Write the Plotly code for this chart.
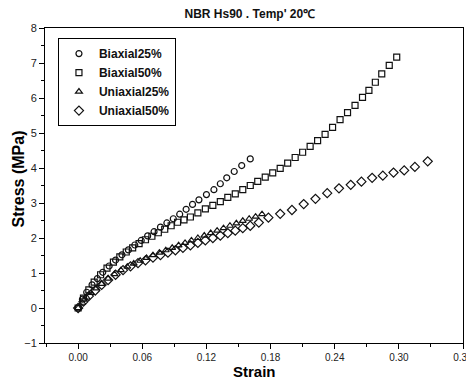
import plotly.graph_objects as go

# ---- data ----
biax25_x = [0, 0.004, 0.008, 0.013, 0.018, 0.023, 0.029, 0.035, 0.041, 0.047, 0.053, 0.059, 0.065, 0.071,
            0.077, 0.083, 0.089, 0.095, 0.101, 0.107, 0.113, 0.120, 0.127, 0.133, 0.139, 0.146, 0.153, 0.161]
biax25_y = [0, 0.25, 0.45, 0.66, 0.84, 1.02, 1.20, 1.37, 1.52, 1.66, 1.80, 1.93, 2.06, 2.18,
            2.31, 2.43, 2.55, 2.68, 2.82, 2.96, 3.09, 3.24, 3.38, 3.55, 3.72, 3.90, 4.07, 4.26]

biax50_x = [0, 0.005, 0.010, 0.015, 0.021, 0.027, 0.033, 0.039, 0.045, 0.051, 0.057, 0.063, 0.069, 0.075,
            0.081, 0.087, 0.093, 0.099, 0.105, 0.112, 0.119, 0.126, 0.133, 0.140, 0.147, 0.154, 0.161, 0.168,
            0.175, 0.182, 0.189, 0.196, 0.203, 0.210, 0.217, 0.224, 0.231, 0.238, 0.245, 0.252, 0.259, 0.266,
            0.272, 0.278, 0.284, 0.291, 0.298]
biax50_y = [0, 0.28, 0.52, 0.74, 0.95, 1.14, 1.31, 1.46, 1.60, 1.72, 1.84, 1.95, 2.05, 2.15,
            2.25, 2.35, 2.45, 2.52, 2.60, 2.72, 2.83, 2.93, 3.04, 3.16, 3.26, 3.38, 3.50, 3.62,
            3.74, 3.86, 3.99, 4.14, 4.30, 4.45, 4.62, 4.78, 4.96, 5.16, 5.38, 5.58, 5.79, 6.02,
            6.22, 6.45, 6.69, 6.93, 7.17]

uni25_x = [0, 0.004, 0.008, 0.012, 0.017, 0.022, 0.028, 0.034, 0.040, 0.046, 0.052, 0.058, 0.064, 0.070,
           0.076, 0.082, 0.088, 0.094, 0.100, 0.106, 0.112, 0.118, 0.124, 0.130, 0.136, 0.142, 0.148, 0.154,
           0.160, 0.166, 0.172]
uni25_y = [0, 0.15, 0.30, 0.43, 0.56, 0.69, 0.84, 0.97, 1.08, 1.18, 1.27, 1.35, 1.43, 1.51,
           1.58, 1.65, 1.72, 1.79, 1.86, 1.93, 2.00, 2.07, 2.14, 2.21, 2.28, 2.35, 2.42, 2.49,
           2.55, 2.61, 2.68]

uni50_x = [0, 0.005, 0.010, 0.016, 0.022, 0.028, 0.035, 0.042, 0.049, 0.056, 0.063, 0.070, 0.077, 0.084,
           0.091, 0.098, 0.105, 0.112, 0.119, 0.126, 0.133, 0.140, 0.147, 0.154, 0.161, 0.169, 0.178, 0.189,
           0.200, 0.211, 0.222, 0.233, 0.244, 0.255, 0.265, 0.275, 0.285, 0.295, 0.305, 0.315, 0.327]
uni50_y = [0, 0.18, 0.34, 0.50, 0.66, 0.80, 0.95, 1.08, 1.19, 1.28, 1.36, 1.44, 1.51, 1.58,
           1.65, 1.72, 1.79, 1.86, 1.93, 2.00, 2.07, 2.14, 2.21, 2.28, 2.35, 2.44, 2.58, 2.69,
           2.80, 2.97, 3.12, 3.28, 3.42, 3.52, 3.61, 3.72, 3.78, 3.87, 3.93, 4.03, 4.19]

series_names = ["Biaxial25%", "Biaxial50%", "Uniaxial25%", "Uniaxial50%"]
x_ticks = [0.00, 0.06, 0.12, 0.18, 0.24, 0.30, 0.36]
x_tick_labels = ["0.00", "0.06", "0.12", "0.18", "0.24", "0.30", "0.36"]
y_ticks = [-1, 0, 1, 2, 3, 4, 5, 6, 7, 8]

title_text = "NBR Hs90 . Temp' 20\u2103"
x_title = "Strain"
y_title = "Stress (MPa)"

# ---- figure ----
symbols = ["circle-open", "square-open", "triangle-up-open", "diamond-open"]
sizes = [6, 6, 6, 7]
data = [(biax25_x, biax25_y), (biax50_x, biax50_y), (uni25_x, uni25_y), (uni50_x, uni50_y)]

fig = go.Figure()
for (xs, ys), name, sym, sz in zip(data, series_names, symbols, sizes):
    fig.add_trace(go.Scatter(
        x=xs, y=ys, name=name, mode="markers",
        marker=dict(symbol=sym, size=sz, color="#111111", line=dict(width=1.2, color="#111111")),
    ))

font_fam = "Liberation Sans, Arial, sans-serif"
axis_common = dict(
    showline=True, linecolor="black", linewidth=1, mirror=True,
    ticks="outside", ticklen=5, tickwidth=1, tickcolor="black",
    showgrid=False, zeroline=False, automargin=False,
)

# the page body has an 8px margin, so the figure is drawn 8px smaller and offset
fig.update_layout(
    width=466, height=378,
    margin=dict(l=37, r=11, t=20, b=43, autoexpand=False),
    paper_bgcolor="white", plot_bgcolor="white",
    title=dict(text="<b>" + title_text + "</b>", x=0.519, xanchor="center", y=0.996, yanchor="top",
               font=dict(family=font_fam, size=12, color="#111111")),
    showlegend=True,
    legend=dict(x=0.031, y=0.968, xanchor="left", yanchor="top",
                bordercolor="black", borderwidth=1, bgcolor="white",
                font=dict(family=font_fam, size=12, color="#111111", weight="bold"),
                itemwidth=30, tracegroupgap=0),
    xaxis=dict(
        range=[-0.031, 0.36], tickvals=x_ticks, ticktext=x_tick_labels,
        ticklabeloverflow="allow",
        tickfont=dict(family=font_fam, size=10, color="#222222"),
        minor=dict(dtick=0.03, tick0=0, ticks="outside", ticklen=3, tickcolor="black"),
        **axis_common,
    ),
    yaxis=dict(
        range=[-1, 8], tickvals=y_ticks,
        ticklabeloverflow="allow",
        tickfont=dict(family=font_fam, size=11, color="#222222"),
        minor=dict(dtick=0.5, tick0=0, ticks="outside", ticklen=3, tickcolor="black"),
        **axis_common,
    ),
    annotations=[
        dict(text="<b>" + x_title + "</b>", xref="paper", yref="paper", x=0.5, y=-0.092,
             xanchor="center", yanchor="middle", showarrow=False,
             font=dict(family=font_fam, size=15, color="black")),
        dict(text="<b>" + y_title + "</b>", xref="paper", yref="paper", x=-0.064, y=0.52,
             xanchor="center", yanchor="middle", showarrow=False, textangle=-90,
             font=dict(family=font_fam, size=16, color="black")),
    ],
)

fig.write_html("out.html")
